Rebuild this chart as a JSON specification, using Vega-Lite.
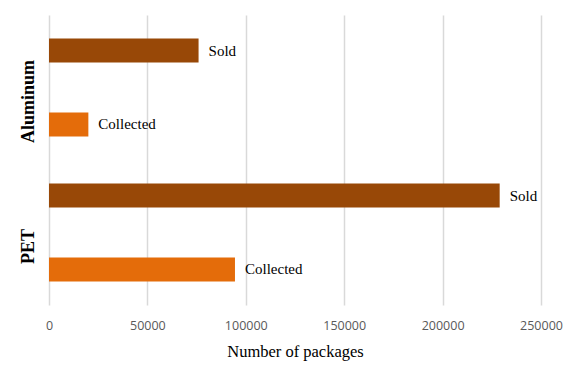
{
  "$schema": "https://vega.github.io/schema/vega-lite/v6.json",
  "width": 492,
  "height": 290,
  "autosize": {"type": "none"},
  "padding": {"left": 49, "top": 15, "right": 35, "bottom": 62},
  "background": "white",
  "config": {"view": {"stroke": null}},
  "data": {
    "values": [
      {"material": "Aluminum", "type": "Sold", "packages": 76000},
      {"material": "Aluminum", "type": "Collected", "packages": 20000},
      {"material": "PET", "type": "Sold", "packages": 229000},
      {"material": "PET", "type": "Collected", "packages": 94500}
    ]
  },
  "encoding": {
    "y": {
      "field": "material",
      "type": "nominal",
      "sort": ["Aluminum", "PET"],
      "scale": {"paddingInner": 0, "paddingOuter": 0},
      "axis": {
        "title": null,
        "labelAngle": 270,
        "labelAlign": "center",
        "labelBaseline": "bottom",
        "labelPadding": 12,
        "labelOffset": 14,
        "labelFont": "Liberation Serif",
        "labelFontWeight": "bold",
        "labelFontSize": 18,
        "labelColor": "#000000",
        "ticks": false,
        "domain": false,
        "grid": false
      }
    },
    "yOffset": {
      "field": "type",
      "type": "nominal",
      "sort": ["Sold", "Collected"],
      "scale": {"paddingInner": 0.676, "paddingOuter": 0.318}
    },
    "x": {
      "field": "packages",
      "type": "quantitative",
      "scale": {"domain": [0, 250000], "nice": false},
      "axis": {
        "title": "Number of packages",
        "titleFont": "Liberation Serif",
        "titleFontSize": 16.5,
        "titleFontWeight": "normal",
        "titleColor": "#000000",
        "titlePadding": 12,
        "values": [0, 50000, 100000, 150000, 200000, 250000],
        "format": "d",
        "labelFont": "Open Sans",
        "labelFontSize": 12.5,
        "labelColor": "#595959",
        "labelPadding": 14,
        "labelFlush": false,
        "labelBound": false,
        "ticks": false,
        "domain": false,
        "grid": true,
        "gridColor": "#d9d9d9",
        "gridWidth": 1.5
      }
    }
  },
  "layer": [
    {
      "mark": {"type": "bar"},
      "encoding": {
        "color": {
          "field": "type",
          "type": "nominal",
          "scale": {"domain": ["Sold", "Collected"], "range": ["#984807", "#e46c0a"]},
          "legend": null
        }
      }
    },
    {
      "mark": {"type": "text", "align": "left", "baseline": "middle", "dx": 10, "font": "Liberation Serif", "fontSize": 15, "color": "#000000"},
      "encoding": {"text": {"field": "type"}}
    }
  ]
}
